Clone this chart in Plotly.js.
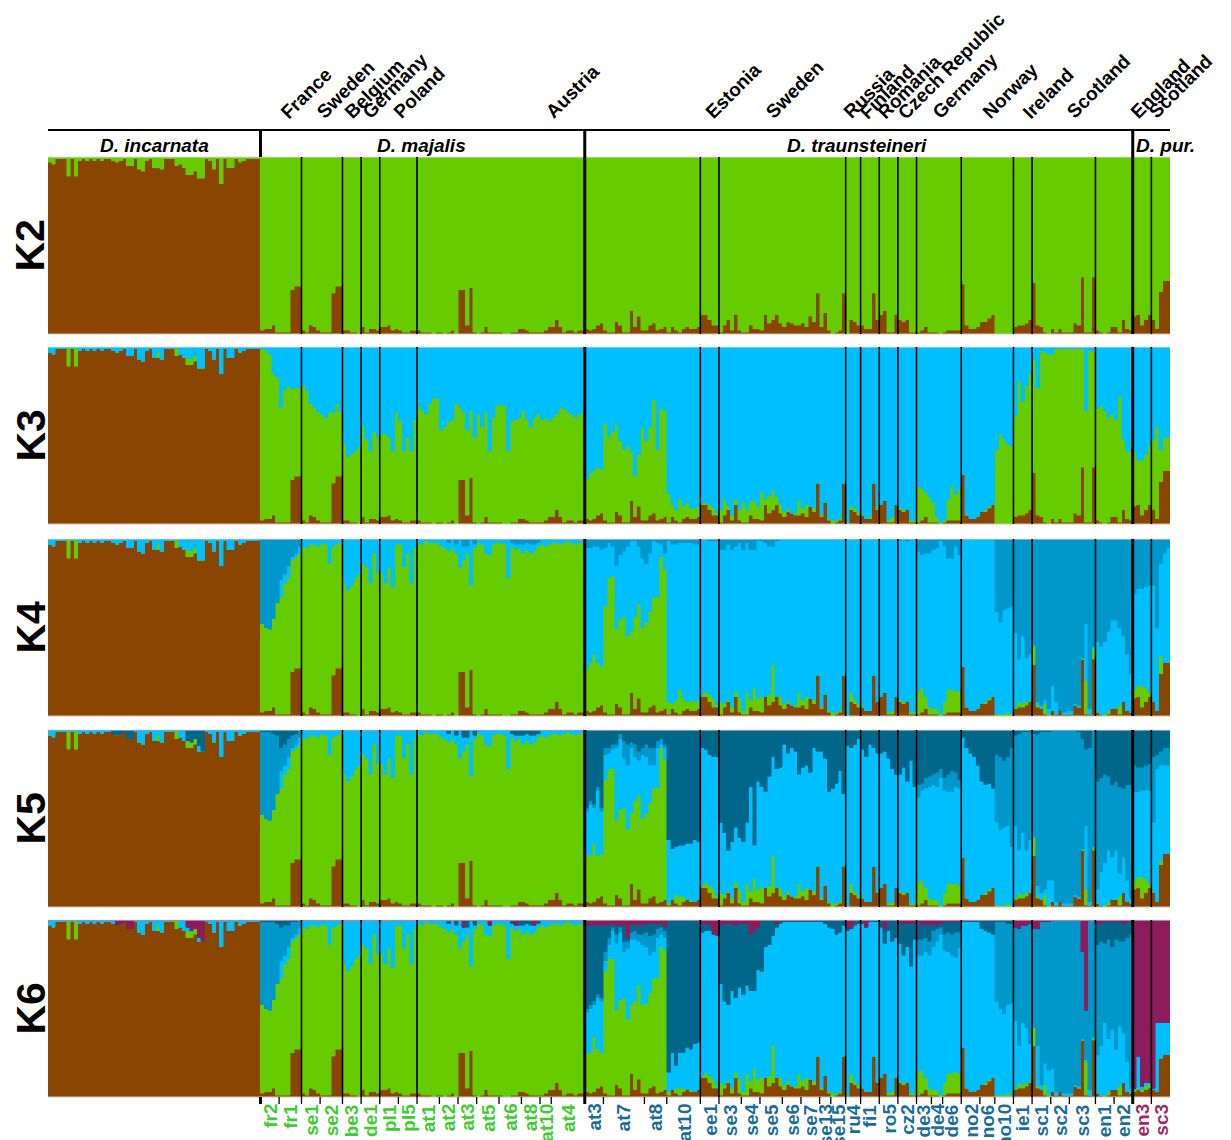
<!DOCTYPE html>
<html><head><meta charset="utf-8">
<script src="https://cdn.plot.ly/plotly-3.0.1.min.js"></script>
<style>html,body{margin:0;padding:0;background:#fff;}#chart{width:1231px;height:1140px;}</style>
</head><body><div id="chart"></div>
<script>
// ---------------- DATA ----------------
// populations in plotting order (species: 0 incarnata, 1 majalis, 2 traunsteineri, 3 pur.)
const popNames = ['inc',
 'fr2','fr1','se1','se2','be3','de1','pl1','pl5','at1','at2','at3','at5','at6','at8','at10','at4',
 'at3','at7','at8','at10','ee1','se3','se4','se5','se6','se7','se13','se15','ru4','fi1','ro5','cz2','de3','de4','de6','no2','no6','no10','ie1','sc1','sc2','sc3','en1','en2',
 'en3','sc3'];
const popSizes = [57,
 5,6,5,6,5,5,5,5,6,5,5,6,6,5,3,9,
 5,11,6,9,5,6,5,6,5,5,3,4,4,5,5,5,4,3,5,5,4,5,5,5,5,7,5,5,
 5,5];
const popSpecies = [0,
 1,1,1,1,1,1,1,1,1,1,1,1,1,1,1,1,
 2,2,2,2,2,2,2,2,2,2,2,2,2,2,2,2,2,2,2,2,2,2,2,2,2,2,2,2,
 3,3];
const speciesNames = ['D. incarnata','D. majalis','D. traunsteineri','D. pur.'];
const countryNames = ['France','Sweden','Belgium','Germany','Poland','Austria',
 'Austria','Estonia','Sweden','Russia','Finland','Romania','Czech Republic','Germany','Norway','Ireland','Scotland','England',
 'England','Scotland'];
const countrySizes = [11,11,5,5,10,45, 31,5,34,4,5,5,5,12,14,5,17,10, 5,5];
const countryLabels = ['France','Sweden','Belgium','Germany','Poland','Austria','Estonia','Sweden','Russia','Finland','Romania','Czech Republic','Germany','Norway','Ireland','Scotland','England','Scotland'];
const kLabels = ['K2','K3','K4','K5','K6'];

// cumulative cluster boundaries (percent, read from bottom of each bar)
// brown (shared by all K)
const BROWN_INC = [97,96,99,99,99,89,99,89,98,99, 98,99,98,99,98,99,99,98,97,98, 99,95,95,99,93,92,98,99,94,94, 93,99,99,99,95,96,94,90,90,92, 88,88,99,98,93,99,85,99,94,94, 99,97,98,99,99,99,99];
const BROWN_MAJ = [2,3,3,5,1, 1,1,1,25,27,27, 2,1,5,4,2, 1,1,1,23,27,27, 2,2,1,1,0, 4,1,3,3,2, 4,4,5,2,3, 2,1,1,2,2, 2,1,1,1,0,1, 1,0,1,2,0, 25,25,5,26,1, 0,1,4,1,1,1, 1,0,0,1,1,3, 3,2,1,1,1, 1,2,4, 4,8,4,1,2,2,1,2,2];
const BROWN_TRA = [3,2,3,5,6, 2,1,1,7,5,1,1,13,4,10,2, 2,5,6,2,3,4, 1,4,2,1,3,4,3,3,4, 11,11,8,5,5, 1,5,8,2,11,2, 1,1,5,3,3, 2,11,6,8,11,6, 4,7,6,5,5, 6,4,10,7,23, 4,12,2, 0,1,2,23, 0,8,7,5, 5,3,3,23,8, 11,13,1,1,11, 8,7,8,1,1, 1,2,4,1, 1,1,0, 1,2,2,2,2, 28,5,3,3,4, 7,7,9,11, 0,0,0,0,0, 4,5,5,6,8, 29,5,4,1,0, 3,1,3,1,1, 1,6,5,32,1,1,32, 2,1,0,1,4, 4,1,8,3,2];
const BROWN_PUR = [10,11,5,8,11, 8,3,24,30,30];
const BROWN_PUR_K6 = [3,4,3,4,5, 4,3,22,24,24];

// green top (incarnata, K3-K6)
const GREEN_INC = [97,96,99,99,99,100,99,100,98,99, 98,99,98,99,98,99,99,98,97,98, 99,95,95,99,93,92,98,99,94,97, 93,99,99,99,100,96,94,94,93,95, 88,88,99,98,93,99,85,99,94,94, 99,97,98,99,99,99,99];

// K3
const K3_GREEN_MAJ = [99,98,96,85,83, 66,76,78,76,77,77, 78,75,68,66,63, 62,60,63,63,68,63, 45,38,40,41,44, 55,48,41,52,49, 51,51,49,41,63, 58,41,49,41,59, 67,64,62,68,71,71, 53,55,58,59,68, 66,63,53,64,49, 62,55,63,41,60,67, 67,67,41,58,59,60, 64,59,55,60,62, 59,60,58, 60,62,66,65,63,62,60,62,63];
const K3_GREEN_TRA = [25,29,30,32,31, 57,49,52,56,47,42,44,41,27,39,54, 47,55,70,42,65,64, 17,11,8,14,10,12,9,9,10, 12,12,11,9,6, 8,14,10,5,14,8, 12,8,13,13,10, 18,14,16,19,15,11, 7,9,6,6,13, 9,11,10,9,23, 5,12,3, 2,2,3,23, 1,10,9,7, 5,3,4,23,10, 11,13,2,4,11, 9,8,8,2,2, 21,20,18,15, 12,4,1, 2,14,22,17,20, 28,5,3,3,4, 7,8,10,11, 42,51,48,45,44, 61,81,69,78,85, 93,77,98,97,96, 96,99,99,99,99, 99,99,99,99,64,98,98, 65,67,64,60,62, 59,72,48,41,41];
const K3_GREEN_PUR = [41,36,36,39,44, 48,55,42,49,49];

// K4
const K4_GREEN_MAJ = [52,50,49,55,64, 67,75,78,88,90,92, 96,95,97,97,96, 98,97,86,96,97,98, 75,71,74,78,80, 86,84,75,92,81, 81,75,84,73,97, 97,84,92,75,95, 98,97,99,98,98,98, 96,95,93,95,92, 84,88,92,74,95, 98,97,92,91,97,98, 98,97,78,96,94,95, 92,94,92,93,96, 97,96,97, 98,98,97,98,99,98,97,98,98];
const K4_GREEN_TRA = [27,30,35,30,28, 62,78,79,49,55,56,45,48,56,63,50, 53,59,67,67,90,83, 8,7,9,15,10,8,9,8,9, 12,14,12,10,6, 8,7,9,5,14,10, 3,13,9,16,10, 11,11,12,29,11,11, 7,9,6,6,13, 9,11,10,9,23, 5,12,3, 2,2,3,23, 1,13,9,7, 5,3,3,23,8, 11,13,2,3,11, 9,8,8,2,2, 14,16,11,5, 4,4,1, 8,15,15,14,14, 28,5,3,3,4, 7,8,10,11, 1,1,1,2,1, 5,8,7,8,9, 39,6,4,7,1, 3,1,3,1,1, 1,6,5,32,20,1,38, 2,1,1,3,4, 4,6,8,3,2];
const K4_GREEN_PUR = [15,17,17,16,13, 8,3,34,30,30];
const K4_LIGHT_INC = [100,100,100,100,100,100,100,100,100,100, 100,100,100,100,100,100,100,100,100,100, 100,100,100,100,100,100,100,100,100,100, 100,100,100,100,100,100,100,100,100,100, 100,100,100,100,100,100,100,100,100,100, 100,100,100,100,100,100,100];
const K4_LIGHT_MAJ = [52,50,49,55,64, 77,80,85,90,92,96, 100,100,100,100,100, 100,100,100,100,100,100, 100,100,100,100,100, 100,100,100,100,100, 100,100,100,100,100, 100,100,100,100,100, 100,100,100,100,100,100, 100,100,98,100,97, 100,96,96,100,97, 100,100,100,100,100,100, 100,100,100,98,97,97, 97,98,97,97,98, 100,100,100, 100,100,100,100,100,100,100,100,100];
const K4_LIGHT_TRA = [95,95,96,96,94, 95,98,96,85,91,93,96,99,99,96,89, 86,92,99,98,97,92, 99,97,97,98,98,98,98,97,97, 100,100,99,99,99, 94,94,97,94,96,98, 94,98,94,94,99, 99,98,96,96,99,100, 100,100,100,100,100, 100,100,100,100,100, 100,100,100, 100,100,100,100, 100,100,100,100, 100,100,100,100,100, 100,100,100,100,100, 99,100,99,100,100, 93,91,92,92, 94,95,99, 96,89,89,96,91, 100,100,100,100,100, 100,100,100,100, 59,53,60,61,62, 47,32,45,33,35, 40,8,6,9,4, 17,8,3,2,3, 3,7,6,33,52,4,39, 42,39,42,48,54, 54,50,45,35,24];
const K4_LIGHT_PUR = [69,72,72,73,74, 74,50,86,92,95];

// K5
const K5_GREEN_TRA = [30,29,36,29,30, 72,78,78,49,55,56,44,53,60,63,50, 53,59,67,67,90,83, 2,4,7,6,6,4,4,3,4, 12,14,12,10,6, 8,7,9,5,14,10, 3,13,9,16,10, 11,11,12,29,11,11, 7,9,6,6,13, 9,11,10,9,23, 5,12,3, 2,2,3,23, 1,13,9,7, 5,3,3,23,8, 11,13,2,3,11, 9,8,8,2,2, 14,15,11,5, 4,4,1, 8,13,13,13,12, 28,5,3,3,4, 7,8,10,11, 1,1,1,2,1, 5,8,7,8,9, 39,6,4,7,1, 3,1,3,1,1, 1,6,5,32,10,1,33, 2,1,1,3,4, 4,6,8,3,2];
const K5_GREEN_PUR = [15,17,17,16,13, 8,3,26,30,30];
const K5_LIGHT_INC = [100,100,100,100,100,100,100,100,100,100, 100,100,100,100,100,100,100,92,92,91, 93,88,90,100,100,100,100,100,100,100, 100,100,100,100,100,100,100,92,90,90, 91,88,100,100,100,100,100,100,100,100, 100,100,100,100,100,100,100];
const K5_LIGHT_TRA = [54,58,56,66,54, 86,87,89,90,95,84,80,90,85,83,86, 85,80,80,90,92,90, 38,33,34,35,35,36,36,38,37, 90,89,86,85,85, 48,42,32,37,45,39, 37,48,68,35,71, 68,65,74,85,78,79, 92,87,90,88,75, 79,80,76,90,88, 88,84,65, 67,70,77,64, 91,90,92,95, 89,85,92,90,87, 87,88,84,78,75, 75,79,71,83,68, 62,66,67,68, 69,68,73, 66,65,65,68,67, 96,90,87,85,80, 71,69,70,67, 48,44,45,46,34, 46,32,42,32,38, 40,12,8,10,15, 15,3,3,2,2, 2,7,6,33,46,3,34, 10,20,25,32,28, 32,19,28,15,5];
const K5_LIGHT_PUR = [65,65,66,66,66, 48,78,80,80,80];
const K5_MID_MAJ = [99,99,99,98,97, 90,92,95,97,98,100, 0,0,0,0,0, 0,0,0,0,0,0, 0,0,0,0,0, 0,0,0,0,0, 0,0,0,0,0, 0,0,0,0,0, 0,0,0,0,0,0, 0,0,0,0,0, 0,0,0,0,0, 0,0,0,0,0,0, 0,0,0,0,0,0, 0,0,0,0,0, 0,0,0, 0,0,0,0,0,0,0,0,0];
const K5_MID_TRA = [56,60,58,68,56, 90,90,92,92,98,94,92,93,92,88,90, 92,90,90,94,95,92, 0,0,0,0,0,0,0,0,0, 0,0,0,0,0, 0,0,0,0,0,0, 0,0,0,0,0, 0,0,0,0,0,0, 0,0,0,0,0, 0,0,0,0,0, 0,0,0, 0,0,0,0, 0,0,0,0, 0,0,0,0,0, 0,0,0,0,0, 0,0,0,0,0, 69,70,73,74, 75,76,78, 73,75,77,76,72, 0,0,0,0,0, 0,0,0,0, 86,85,83,85,90, 97,98,99,99,99, 98,98,99,99,99, 100,100,100,100,100, 100,100,99,95,89,90,100, 71,73,75,74,69, 71,68,67,69,69];
const K5_MID_PUR = [80,79,79,80,81, 85,86,88,90,90];

// K6
const K6_GREEN_TRA = [25,25,34,27,25, 71,78,78,49,55,56,44,52,54,63,52, 53,59,67,67,85,83, 3,4,5,5,5,4,4,3,4, 12,14,12,10,6, 8,7,9,5,14,10, 3,13,9,16,10, 11,11,12,29,11,11, 7,9,6,6,13, 9,11,10,9,23, 5,12,3, 2,2,3,23, 1,13,9,7, 5,3,3,23,8, 11,13,2,3,11, 9,8,8,2,2, 14,15,11,5, 4,4,1, 8,13,14,14,13, 28,5,3,3,4, 7,8,10,11, 1,1,1,2,1, 5,8,7,8,9, 39,6,4,7,1, 3,1,3,1,1, 1,6,5,32,20,1,33, 2,1,1,3,4, 4,6,8,3,2];
const K6_GREEN_PUR = [4,5,4,6,7, 4,3,22,24,24];
const K6_LIGHT_INC = [100,100,100,100,100,100,100,100,100,100, 100,100,100,100,100,100,100,100,97,94, 93,92,95,100,100,100,100,100,100,100, 100,100,100,100,100,100,100,96,94,93, 90,86,100,100,100,100,100,100,100,100, 100,100,100,100,100,100,100];
const K6_LIGHT_MAJ = [52,50,49,55,64, 77,80,85,90,92,96, 100,100,100,100,100, 100,100,100,100,100,100, 100,100,100,100,100, 100,100,100,100,100, 100,100,100,100,100, 100,100,100,100,100, 100,100,100,100,100,100, 100,100,98,100,97, 100,96,96,100,97, 100,100,100,97,100,100, 100,100,100,98,97,97, 97,98,97,97,98, 100,100,100, 100,100,100,100,100,100,100,100,100];
const K6_LIGHT_TRA = [48,50,52,56,54, 77,86,94,87,93,82,84,89,89,88,86, 85,80,82,90,92,90, 14,25,18,25,25,28,27,30,31, 93,94,94,92,91, 64,54,52,60,56,62, 58,63,60,60,72, 71,85,86,91,96,98, 99,99,99,99,99, 99,99,99,99,99, 99,98,96, 95,92,93,97, 94,95,97,98, 98,96,99,99,99, 96,87,94,88,90, 87,80,85,74,89, 80,80,82,80, 85,88,92, 83,82,80,79,84, 99,99,99,99,99, 95,94,93,92, 54,50,47,52,53, 43,29,42,39,30, 38,29,7,19,15, 16,3,3,2,2, 2,7,6,33,21,4,34, 24,29,42,33,38, 27,40,36,20,5];
const K6_LIGHT_PUR = [5,23,6,8,8, 5,42,42,42,42];
const K6_MID_MAJ = [99,99,99,99,98, 96,97,97,99,99,100, 0,0,0,0,0, 0,0,0,0,0,0, 0,0,0,0,0, 0,0,0,0,0, 0,0,0,0,0, 0,0,0,0,0, 0,0,0,0,0,0, 0,0,0,0,0, 0,0,0,0,0, 0,0,0,0,0,0, 0,0,0,0,0,0, 0,0,0,0,0, 0,0,0, 0,0,0,0,0,0,0,0,0];
const K6_MID_TRA = [50,52,54,58,56, 82,90,96,92,96,88,88,93,94,92,92, 93,91,92,95,96,94, 0,0,0,0,0,0,0,0,0, 0,0,0,0,0, 0,0,0,0,0,0, 0,0,0,0,0, 0,0,0,0,0,0, 0,0,0,0,0, 0,0,0,0,0, 0,0,0, 0,0,0,0, 0,0,0,0, 0,0,0,0,0, 0,0,0,0,0, 0,0,0,0,0, 89,89,90,88, 94,95,96, 92,93,92,93,93, 0,0,0,0,0, 0,0,0,0, 99,99,99,98,98, 96,95,97,97,98, 95,95,99,99,99, 100,100,100,100,100, 100,100,100,82,49,100,100, 86,88,87,89,85, 89,88,88,90,92];
const K6_DARK_MAJ = [100,100,100,100,100, 100,100,100,100,100,100, 100,100,100,100,100, 100,100,100,100,100,100, 100,100,100,100,100, 100,100,100,100,100, 100,100,100,100,100, 100,100,100,100,100, 100,100,100,100,100,100, 100,100,100,100,100, 100,0,100,100,100, 100,100,100,0,100,100, 100,100,100,100,0,100, 100,100,100,0,100, 100,100,100, 100,100,100,100,100,100,100,100,100];
const K6_DARK_TRA = [97,97,97,97,97, 97,97,98,97,97,97,90,98,97,97,97, 98,98,98,98,98,96, 100,100,100,100,100,100,100,100,100, 98,98,97,92,92, 97,98,98,98,97,98, 98,98,92,94,96, 100,100,100,100,98,100, 100,100,100,100,100, 100,100,100,100,100, 100,100,100, 100,100,100,100, 95,96,100,100, 100,95,100,100,100, 100,95,100,100,100, 98,98,98,98,98, 99,97,98,97, 98,97,98, 99,99,99,99,99, 100,100,100,100,100, 100,100,100,100, 100,100,100,100,100, 0,0,0,0,0, 0,0,0,0,0, 100,100,100,100,100, 100,100,100,0,0,100,100, 98,98,99,99,99, 99,99,98,99,99];

// ---------------- BUILD ----------------
const W = 1231, H = 1140;
const PLOT_LEFT = 48, PLOT_RIGHT = 1170;
const PANEL_TOP = [157, 347, 539, 730, 920];
const PANEL_BOTTOM = [334, 524, 716, 907, 1097];
const COLORS = ['#8a4500', '#66cc00', '#00bfff', '#0098ca', '#00668a', '#8c1c5c'];
const LABEL_COLORS = ['#000000', '#3fcc33', '#1b6d99', '#9b2a6a'];
const FONT = 'Liberation Sans, Arial, Helvetica, sans-serif';

const N = popSizes.reduce((a, b) => a + b, 0);
const speciesN = [0, 0, 0, 0];
popSizes.forEach((n, i) => speciesN[popSpecies[i]] += n);
const errors = [];
function seg(name, parts) {
  let out = [];
  parts.forEach((p, s) => {
    if (p) { if (p.length !== speciesN[s]) errors.push(name + '[' + s + ']=' + p.length); out = out.concat(p); }
    else out = out.concat(new Array(speciesN[s]).fill(0));
  });
  return out;
}
const BROWN = seg('BROWN', [BROWN_INC, BROWN_MAJ, BROWN_TRA, BROWN_PUR]);
const BROWN6 = seg('BROWN6', [BROWN_INC, BROWN_MAJ, BROWN_TRA, BROWN_PUR_K6]);
const PANELS = [
  [BROWN],
  [BROWN, seg('K3G', [GREEN_INC, K3_GREEN_MAJ, K3_GREEN_TRA, K3_GREEN_PUR])],
  [BROWN, seg('K4G', [GREEN_INC, K4_GREEN_MAJ, K4_GREEN_TRA, K4_GREEN_PUR]),
          seg('K4L', [K4_LIGHT_INC, K4_LIGHT_MAJ, K4_LIGHT_TRA, K4_LIGHT_PUR])],
  [BROWN, seg('K5G', [GREEN_INC, K4_GREEN_MAJ, K5_GREEN_TRA, K5_GREEN_PUR]),
          seg('K5L', [K5_LIGHT_INC, K4_LIGHT_MAJ, K5_LIGHT_TRA, K5_LIGHT_PUR]),
          seg('K5M', [null, K5_MID_MAJ, K5_MID_TRA, K5_MID_PUR])],
  [BROWN6, seg('K6G', [GREEN_INC, K4_GREEN_MAJ, K6_GREEN_TRA, K6_GREEN_PUR]),
          seg('K6L', [K6_LIGHT_INC, K6_LIGHT_MAJ, K6_LIGHT_TRA, K6_LIGHT_PUR]),
          seg('K6M', [null, K6_MID_MAJ, K6_MID_TRA, null]),
          seg('K6D', [null, K6_DARK_MAJ, K6_DARK_TRA, null])]
];

const xs = [];
for (let i = 0; i < N; i++) xs.push(i + 0.5);
const traces = [];
PANELS.forEach((bounds, p) => {
  let prev = new Array(N).fill(0);
  for (let j = 0; j <= bounds.length; j++) {
    const cur = (j < bounds.length) ? bounds[j].map((v, i) => Math.min(100, Math.max(v, prev[i]))) : new Array(N).fill(100);
    const y = cur.map((v, i) => (v - prev[i]) / 100);
    traces.push({
      type: 'bar', x: xs, y: y, width: 1,
      xaxis: 'x', yaxis: p === 0 ? 'y' : 'y' + (p + 1),
      marker: { color: COLORS[j], line: { color: COLORS[j], width: 0.5 } },
      hoverinfo: 'skip', showlegend: false
    });
    prev = cur;
  }
});

const px2x = (px) => px / W;
const py2y = (py) => 1 - py / H;
const layout = {
  width: W, height: H, margin: { l: 0, r: 0, t: 0, b: 0 },
  paper_bgcolor: '#fff', plot_bgcolor: 'rgba(0,0,0,0)',
  barmode: 'stack', bargap: 0, showlegend: false,
  xaxis: { domain: [px2x(PLOT_LEFT), px2x(PLOT_RIGHT)], range: [0, N], visible: false, fixedrange: true, anchor: 'y5' },
  shapes: [], annotations: []
};
for (let p = 0; p < 5; p++) {
  const key = p === 0 ? 'yaxis' : 'yaxis' + (p + 1);
  layout[key] = { domain: [py2y(PANEL_BOTTOM[p]), py2y(PANEL_TOP[p])], range: [0, 1], visible: false, fixedrange: true, anchor: 'x' };
}

// boundaries
const speciesBounds = [];
let acc = 0;
for (let s = 0; s < 3; s++) { acc += speciesN[s]; speciesBounds.push(acc); }
const countryBounds = [];
acc = speciesN[0];
countrySizes.forEach((n) => { acc += n; if (acc < N) countryBounds.push(acc); });
const popBounds = [];
acc = 0;
popSizes.forEach((n) => { acc += n; if (acc < N) popBounds.push(acc); });

for (let p = 0; p < 5; p++) {
  const y0 = py2y(PANEL_BOTTOM[p]), y1 = py2y(PANEL_TOP[p]);
  layout.shapes.push({ type: 'line', xref: 'paper', yref: 'paper', x0: px2x(PLOT_LEFT), x1: px2x(PLOT_RIGHT), y0: y0, y1: y0, line: { color: '#c8c8c8', width: 1 } });
  layout.shapes.push({ type: 'line', xref: 'paper', yref: 'paper', x0: px2x(PLOT_LEFT), x1: px2x(PLOT_RIGHT), y0: y1, y1: y1, line: { color: '#e0e0e0', width: 1 } });
  countryBounds.forEach((b) => {
    const thick = speciesBounds.indexOf(b) >= 0;
    layout.shapes.push({ type: 'line', xref: 'x', yref: 'paper', x0: b, x1: b, y0: y0, y1: y1, line: { color: '#000', width: thick ? 3 : 1.6 } });
  });
}
// header
layout.shapes.push({ type: 'line', xref: 'paper', yref: 'paper', x0: px2x(PLOT_LEFT), x1: px2x(PLOT_RIGHT), y0: py2y(130), y1: py2y(130), line: { color: '#000', width: 2.2 } });
speciesBounds.forEach((b) => {
  layout.shapes.push({ type: 'line', xref: 'x', yref: 'paper', x0: b, x1: b, y0: py2y(PANEL_TOP[0]), y1: py2y(129), line: { color: '#000', width: 3 } });
});
// bottom ticks
popBounds.forEach((b) => {
  if (b < speciesN[0]) return;
  const thick = speciesBounds.indexOf(b) >= 0;
  layout.shapes.push({ type: 'line', xref: 'x', yref: 'paper', x0: b, x1: b, y0: py2y(1104), y1: py2y(PANEL_BOTTOM[4]), line: { color: '#000', width: thick ? 3 : 1.3 } });
});

// species names
const SPECIES_LABEL_PX = [154, 421, 857, 1134];
speciesNames.forEach((nm, s) => {
  layout.annotations.push({
    xref: 'paper', yref: 'paper', x: px2x(SPECIES_LABEL_PX[s]), y: py2y(145),
    xanchor: s === 3 ? 'left' : 'center', yanchor: 'middle', showarrow: false,
    text: '<b><i>' + nm + '</i></b>', font: { family: FONT, size: 19, color: '#000' }
  });
});
// country labels (rotated)
const COUNTRY_LABEL_PX = [280, 316, 344, 362, 393, 545, 705, 765, 843, 859, 877, 897, 932, 982, 1022, 1066, 1130, 1148];
countryLabels.forEach((nm, i) => {
  layout.annotations.push({
    xref: 'paper', yref: 'paper', x: px2x(COUNTRY_LABEL_PX[i] - 6), y: py2y(125.5),
    xanchor: 'left', yanchor: 'bottom', showarrow: false, textangle: -45,
    text: '<b>' + nm + '</b>', font: { family: FONT, size: 19, color: '#000' }
  });
});
// K labels
kLabels.forEach((k, p) => {
  layout.annotations.push({
    xref: 'paper', yref: 'paper', x: px2x(30), y: py2y((PANEL_TOP[p] + PANEL_BOTTOM[p]) / 2),
    xanchor: 'center', yanchor: 'middle', showarrow: false, textangle: -90,
    text: '<b>' + k + '</b>', font: { family: FONT, size: 41, color: '#000' }
  });
});
// population labels
acc = 0;
popNames.forEach((nm, i) => {
  const start = acc; acc += popSizes[i];
  if (popSpecies[i] === 0) return;
  layout.annotations.push({
    xref: 'x', yref: 'paper', x: (start + acc) / 2, y: py2y(1102),
    xanchor: 'center', yanchor: 'top', showarrow: false, textangle: -90,
    text: '<b>' + nm + '</b>', font: { family: FONT, size: 19, color: LABEL_COLORS[popSpecies[i]] }
  });
});
if (errors.length) {
  layout.annotations.push({ xref: 'paper', yref: 'paper', x: 0.5, y: 0.99, showarrow: false, text: 'LEN ERR ' + errors.join(' '), font: { size: 14, color: 'red' } });
}
Plotly.newPlot('chart', traces, layout, { staticPlot: true, displayModeBar: false });
</script></body></html>
